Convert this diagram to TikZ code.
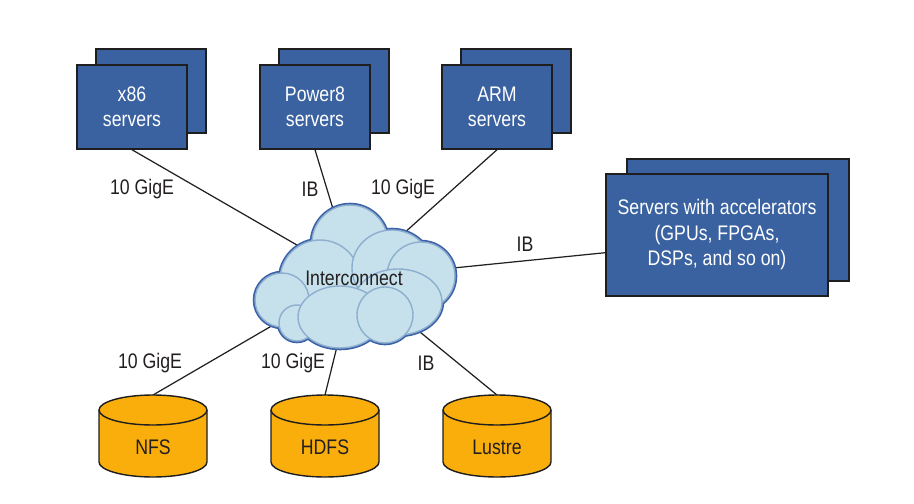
\documentclass[tikz,border=0pt]{standalone}
\usepackage{fontspec}
\setmainfont{Liberation Sans}[FakeStretch=0.84]
\usetikzlibrary{positioning, calc, shadows, backgrounds}

\definecolor{srvblue}{HTML}{3A62A0}
\definecolor{srvline}{HTML}{1E1E1E}
\definecolor{cloudfill}{HTML}{C6E1EB}
\definecolor{cloudline}{HTML}{3B62A8}
\definecolor{diskfill}{HTML}{F9AE0C}
\definecolor{txtgray}{HTML}{231F20}

\tikzset{
  srvbase/.style={draw=srvline, line width=0.85pt, fill=srvblue, text=white, align=center},
  server/.style={srvbase, minimum width=2.2cm, minimum height=1.68cm,
    copy shadow={shadow xshift=0.38cm, shadow yshift=0.32cm, fill=srvblue, draw=srvline, line width=0.85pt}},
  accserver/.style={srvbase, minimum width=4.44cm, minimum height=2.44cm,
    copy shadow={shadow xshift=0.42cm, shadow yshift=0.30cm, fill=srvblue, draw=srvline, line width=0.85pt}},
  disk/.style={text=txtgray, minimum width=2.16cm, inner sep=0pt},
  diskbody/.style={draw=srvline, line width=0.8pt, fill=diskfill},
  hub/.style={text=txtgray, inner sep=0pt},
  puffrim/.style={draw=cloudline, line width=2.6pt},
  puff/.style={draw=cloudline!40!cloudfill, line width=0.8pt, fill=cloudfill},
  link/.style={draw=txtgray, line width=0.7pt}
}

\begin{document}
\begin{tikzpicture}[x=0.02cm, y=-0.02cm, font=\fontsize{12}{14.5}\selectfont, txt/.style={text=txtgray}]
  \useasboundingbox (0,0) rectangle (914,504);

  % servers
  \node[server] (x86) at (132,107) {x86\\servers};
  \node[server] (pow) at (315,107) {Power8\\servers};
  \node[server] (arm) at (497,107) {ARM\\servers};
  \node[accserver] (acc) at (717,235) {Servers with accelerators\\(GPUs, FPGAs,\\DSPs, and so on)};

  % storage
  \foreach \name/\x/\lab in {nfs/153/NFS, hdfs/325/HDFS, lustre/497/Lustre}
    \node[disk] (\name) at (\x,447) {\lab};

  \node[hub] (ic) at (354,278) {Interconnect};

  \begin{scope}[on background layer]
    \foreach \from in {x86.south, pow.south, arm.south, acc.189}
      \draw[link] (\from) -- (ic.center);
    \foreach \to in {nfs, hdfs, lustre}
      \draw[link] (ic.center) -- ($(\to.center)+(0,-52)$);
    % cylinders
    \foreach \d in {nfs, hdfs, lustre} {
      \filldraw[diskbody] ($(\d.center)+(-54,-37)$) -- ++(0,52)
        arc[start angle=180, end angle=0, x radius=54, y radius=15] -- ++(0,-52)
        arc[start angle=0, end angle=-180, x radius=54, y radius=15] -- cycle;
      \draw[diskbody, fill=none] ($(\d.center)+(-54,-37)$)
        arc[start angle=180, end angle=0, x radius=54, y radius=15];
    }
    % cloud: rim first, then puffs back to front
    \def\puffs{350/243/38/38, 320/280/40/40, 392/268/40/38, 421/276/34/34,
        282/300/27/27, 297/323/18/18, 398/302/44/33, 340/317/42/31, 385/315/28/28}
    \foreach \cx/\cy/\rx/\ry in \puffs
      \draw[puffrim] (\cx,\cy) ellipse[x radius=\rx, y radius=\ry];
    \foreach \cx/\cy/\rx/\ry in \puffs
      \filldraw[puff] (\cx,\cy) ellipse[x radius=\rx, y radius=\ry];
  \end{scope}

  % link labels
  \foreach \x/\y/\lab [count=\i] in {142/189/10 GigE, 310/189/IB, 403/189/10 GigE, 525/244/IB,
      150/363/10 GigE, 293/363/10 GigE, 426/363/IB}
    \node[txt] (lbl\i) at (\x,\y) {\lab};
\end{tikzpicture}
\end{document}
